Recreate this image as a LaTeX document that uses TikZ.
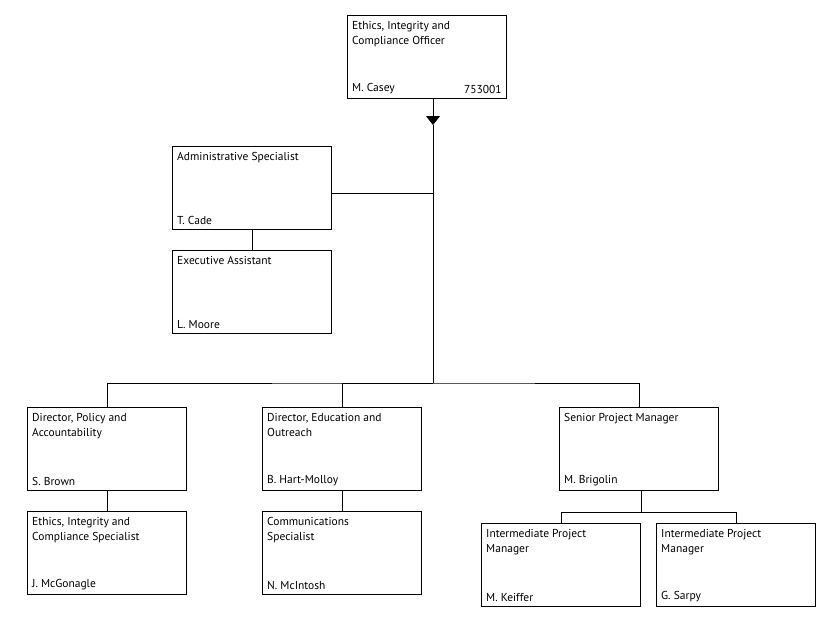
\documentclass[tikz,border=0pt]{standalone}
\usepackage{fontspec}
\setmainfont{PT Sans}
\usetikzlibrary{positioning,arrows.meta}

\tikzset{
  box/.style={draw,thick,minimum width=159pt,minimum height=83pt,anchor=north west,inner sep=0pt},
  title/.style={anchor=north west,align=left,inner sep=0pt,font=\fontsize{11.5}{15}\selectfont},
  person/.style={anchor=south west,inner sep=0pt,font=\fontsize{11.5}{15}\selectfont},
  link/.style={thick}
}
% box with title at top and person at bottom
\newcommand{\orgbox}[5]{%
  \node[box] (#1) at (#2,#3) {};
  \node[title,below right=6pt and 5pt of #1.north west,anchor=north west] (#1t) {#4};
  \node[person,above right=5pt and 5pt of #1.south west,anchor=south west] (#1p) {#5};
}

\begin{document}
\begin{tikzpicture}[x=1pt,y=-1pt]
  \useasboundingbox (0,0) rectangle (834,640);
  \orgbox{eco}{347}{15}{Ethics, Integrity and\\Compliance Officer}{M. Casey}
  \node[person,above left=5pt and 5pt of eco.south east,anchor=south east] {753001};
  \orgbox{adm}{172}{146}{Administrative Specialist}{T. Cade}
  \orgbox{exa}{172}{250}{Executive Assistant}{L. Moore}
  \orgbox{dpa}{27}{407}{Director, Policy and\\Accountability}{S. Brown}
  \orgbox{eics}{27}{511}{Ethics, Integrity and\\Compliance Specialist}{J. McGonagle}
  \orgbox{deo}{262}{407}{Director, Education and\\Outreach}{B. Hart-Molloy}
  \orgbox{coms}{262}{511}{Communications\\Specialist}{N. McIntosh}
  \orgbox{spm}{559}{407}{Senior Project Manager}{M. Brigolin}
  \orgbox{ipk}{481}{523}{Intermediate Project\\Manager}{M. Keiffer}
  \orgbox{ips}{656}{523}{Intermediate Project\\Manager}{G. Sarpy}

  \coordinate (tip) at (433,125);
  \coordinate (side) at (433,193);
  \coordinate (hub) at (433,383);
  \coordinate (subhub) at (641,512);
  \draw[link,-{Triangle[width=14pt,length=9pt]}] (eco.south -| tip) -- (tip);
  \draw[link] (tip) -- (hub);
  \draw[link] (side) -- (adm.east |- side);
  \draw[link] (adm.south) -- (exa.north);
  \draw[link] (dpa.north) |- (hub) -| (spm.north);
  \draw[link] (hub) -| (deo.north);
  \draw[link] (dpa.south) -- (eics.north);
  \draw[link] (deo.south) -- (coms.north);
  \draw[link] (spm.south -| subhub) -- (subhub);
  \draw[link] (ipk.north) |- (subhub) -| (ips.north);
\end{tikzpicture}
\end{document}
